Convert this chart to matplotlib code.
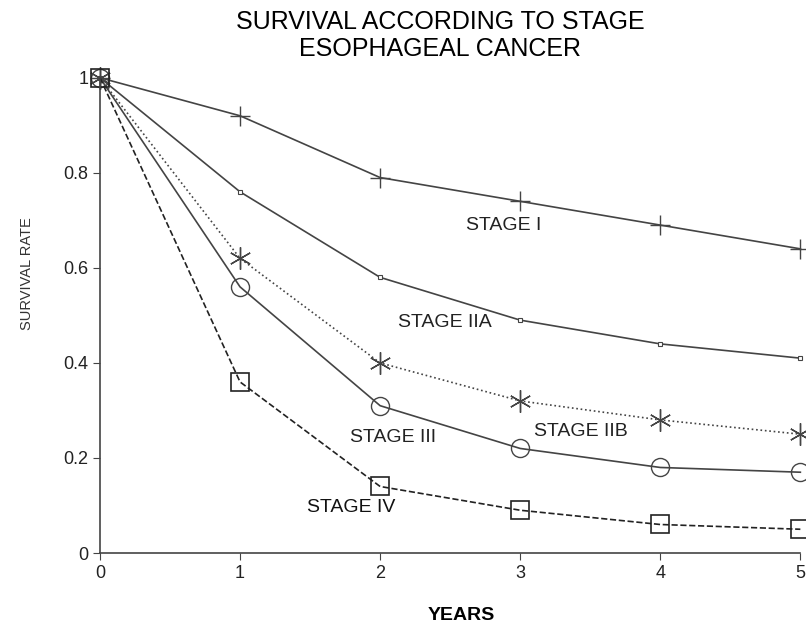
import matplotlib
matplotlib.use('Agg')
import matplotlib.pyplot as plt

plt.rcParams['font.family'] = ['Liberation Sans', 'DejaVu Sans']

years = [0, 1, 2, 3, 4, 5]
stage_i = [1.0, 0.92, 0.79, 0.74, 0.69, 0.64]
stage_iia = [1.0, 0.76, 0.58, 0.49, 0.44, 0.41]
stage_iib = [1.0, 0.62, 0.40, 0.32, 0.28, 0.25]
stage_iii = [1.0, 0.56, 0.31, 0.22, 0.18, 0.17]
stage_iv = [1.0, 0.36, 0.14, 0.09, 0.06, 0.05]

fig = plt.figure(figsize=(8.06, 6.27), dpi=100)
ax = fig.add_axes([0.124, 0.118, 0.869, 0.758])

c = '#444444'
ax.plot(years, stage_i, '-', color=c, lw=1.2, marker='+', ms=14, mew=1.0, clip_on=False)
ax.plot(years, stage_iia, '-', color=c, lw=1.2, marker='s', ms=3, mfc='white', mew=0.8, clip_on=False)
ax.plot(years, stage_iib, ':', color=c, lw=1.2, marker=(6, 2, 0), ms=16, mew=1.0, clip_on=False)
ax.plot(years, stage_iii, '-', color=c, lw=1.2, marker='o', ms=13, mfc='none', mew=1.0, clip_on=False)
ax.plot(years, stage_iv, '--', color='#222222', lw=1.2, marker='s', ms=13, mfc='none', mew=1.2, clip_on=False)

ax.text(2.88, 0.69, 'STAGE I', fontsize=14, ha='center', va='center', color='#222222')
ax.text(2.46, 0.484, 'STAGE IIA', fontsize=14, ha='center', va='center', color='#222222')
ax.text(3.43, 0.255, 'STAGE IIB', fontsize=14, ha='center', va='center', color='#222222')
ax.text(2.09, 0.242, 'STAGE III', fontsize=14, ha='center', va='center', color='#222222')
ax.text(1.79, 0.095, 'STAGE IV', fontsize=14, ha='center', va='center', color='#111111')

ax.set_xlim(0, 5)
ax.set_ylim(0, 1)
ax.set_xticks(years)
ax.set_yticks([0, 0.2, 0.4, 0.6, 0.8, 1])
ax.set_yticklabels(['0', '0.2', '0.4', '0.6', '0.8', '1'])
for s in ['top', 'right']:
    ax.spines[s].set_visible(False)
for s in ['left', 'bottom']:
    ax.spines[s].set_color(c)
    ax.spines[s].set_linewidth(1.2)
ax.tick_params(labelsize=13, length=5, color=c, labelcolor='#222222')

fig.text(0.034, 0.563, 'SURVIVAL RATE', fontsize=10.5, rotation=90,
         ha='center', va='center', color='#333333')
fig.text(0.572, 0.019, 'YEARS', fontsize=14, fontweight='bold', ha='center', va='center')
fig.text(0.546, 0.944, 'SURVIVAL ACCORDING TO STAGE\nESOPHAGEAL CANCER',
         fontsize=18, ha='center', va='center', linespacing=1.15)

fig.savefig('out.png', dpi=100)
